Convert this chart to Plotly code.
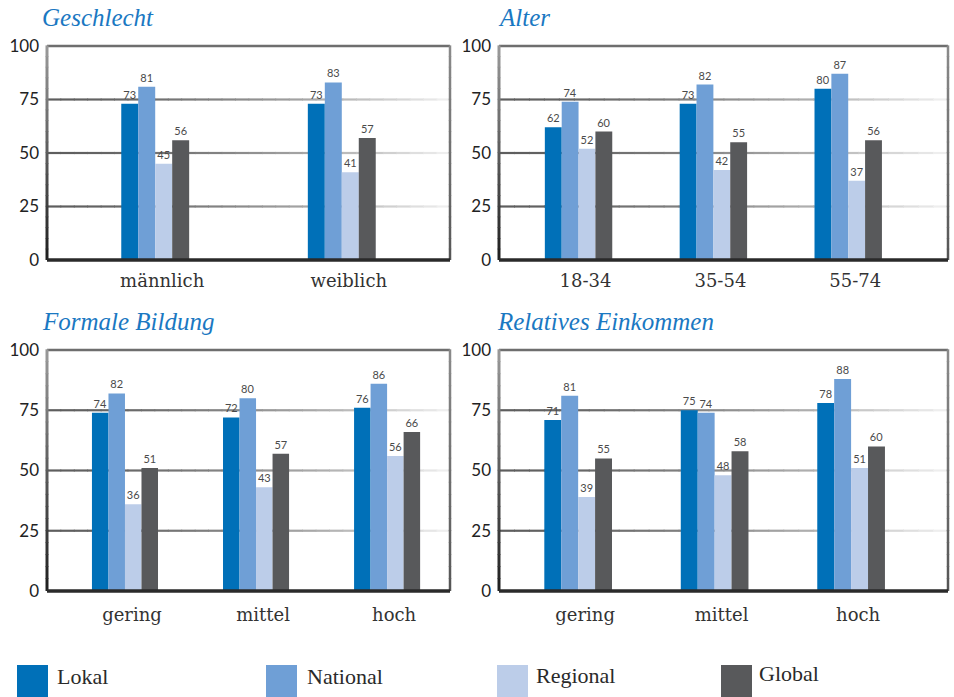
import plotly.graph_objects as go
from plotly.subplots import make_subplots

# ---- data -------------------------------------------------------------
series_names = ["Lokal", "National", "Regional", "Global"]
series_colors = ["#0070b8", "#6f9fd6", "#bccde9", "#58595b"]

geschlecht_cats = ["männlich", "weiblich"]
geschlecht_lokal = [73, 73]
geschlecht_national = [81, 83]
geschlecht_regional = [45, 41]
geschlecht_global = [56, 57]

alter_cats = ["18-34", "35-54", "55-74"]
alter_lokal = [62, 73, 80]
alter_national = [74, 82, 87]
alter_regional = [52, 42, 37]
alter_global = [60, 55, 56]

bildung_cats = ["gering", "mittel", "hoch"]
bildung_lokal = [74, 72, 76]
bildung_national = [82, 80, 86]
bildung_regional = [36, 43, 56]
bildung_global = [51, 57, 66]

einkommen_cats = ["gering", "mittel", "hoch"]
einkommen_lokal = [71, 75, 78]
einkommen_national = [81, 74, 88]
einkommen_regional = [39, 48, 51]
einkommen_global = [55, 58, 60]

y_ticks = [0, 25, 50, 75, 100]

panels = [
    dict(title="Geschlecht", cats=geschlecht_cats,
         values=[geschlecht_lokal, geschlecht_national, geschlecht_regional, geschlecht_global],
         row=1, col=1, xrange=[-0.58, 1.58], barw=0.091),
    dict(title="Alter", cats=alter_cats,
         values=[alter_lokal, alter_national, alter_regional, alter_global],
         row=1, col=2, xrange=[-0.59, 2.74], barw=0.125),
    dict(title="Formale Bildung", cats=bildung_cats,
         values=[bildung_lokal, bildung_national, bildung_regional, bildung_global],
         row=2, col=1, xrange=[-0.595, 2.48], barw=0.126),
    dict(title="Relatives Einkommen", cats=einkommen_cats,
         values=[einkommen_lokal, einkommen_national, einkommen_regional, einkommen_global],
         row=2, col=2, xrange=[-0.58, 2.71], barw=0.124),
]

W, H = 954, 697
col_x = {1: (47, 450), 2: (499, 948)}
row_y = {1: (46, 260), 2: (350, 591)}
row_label_standoff = {1: 8, 2: 11}
title_pos = {(1, 1): (40, 17), (1, 2): (496, 17), (2, 1): (40, 321), (2, 2): (495, 321)}

NUM_FONT = "Lato"
SERIF = "Liberation Serif"
LABEL_SERIF = "DejaVu Serif"

fig = make_subplots(rows=2, cols=2)


def hex_to_rgb(h):
    h = h.lstrip("#")
    return tuple(int(h[i:i + 2], 16) for i in (0, 2, 4))


def mix(c0, c1, t):
    a, b = hex_to_rgb(c0), hex_to_rgb(c1)
    return "rgb(%d,%d,%d)" % tuple(round(a[i] + (b[i] - a[i]) * t) for i in range(3))


def gradient_hline(xref, yref, y, c0, c1, width, n=30, power=1.6):
    for i in range(n):
        t = ((i + 0.5) / n) ** power
        fig.add_shape(type="line", xref=xref, yref=yref,
                      x0=i / n, x1=(i + 1) / n + 0.002, y0=y, y1=y,
                      line=dict(color=mix(c0, c1, t), width=width), layer="below")


def gradient_vline(xref, yref, x, c0, c1, width, n=20):
    # c0 at the bottom, c1 at the top
    for i in range(n):
        t = (i + 0.5) / n
        fig.add_shape(type="line", xref=xref, yref=yref,
                      x0=x, x1=x, y0=i / n, y1=(i + 1) / n + 0.003,
                      line=dict(color=mix(c0, c1, t), width=width), layer="above")


for idx, p in enumerate(panels):
    r, c = p["row"], p["col"]
    w = p["barw"]
    for s, (name, color) in enumerate(zip(series_names, series_colors)):
        vals = p["values"][s]
        fig.add_trace(go.Bar(
            x=p["cats"], y=vals, name=name, marker=dict(color=color, line=dict(width=0)),
            width=w, offset=-2 * w + s * w,
            text=[str(v) for v in vals], textposition="outside",
            textfont=dict(family=NUM_FONT, size=11, color="#4a4a4a"),
            constraintext="none", cliponaxis=False, showlegend=False,
        ), row=r, col=c)

    n = "" if idx == 0 else str(idx + 1)
    xa, ya = "xaxis" + n, "yaxis" + n
    x0, x1 = col_x[c]
    y0, y1 = row_y[r]
    fig.layout[xa].update(
        domain=[x0 / W, x1 / W], range=p["xrange"], type="category",
        showgrid=False, zeroline=False, showline=False, ticks="",
        tickfont=dict(family=LABEL_SERIF, size=18, color="#333333"),
        ticklabelstandoff=row_label_standoff[r], ticklabelshift=7,
        fixedrange=True, automargin=False,
    )
    fig.layout[ya].update(
        domain=[1 - y1 / H, 1 - y0 / H], range=[0, 100], tickvals=y_ticks,
        showgrid=False, zeroline=False, showline=False, ticks="",
        tickfont=dict(family=NUM_FONT, size=17, color="#222222"),
        ticklabelstandoff=7, fixedrange=True, automargin=False,
    )

    xd, yd = "x" + n + " domain", "y" + n + " domain"
    # gridlines fading out towards the right
    for gv in y_ticks[1:-1]:
        gradient_hline(xd, "y" + n, gv, "#5e5e5e", "#f2f2f2", 2.2)
    # frame
    fig.add_shape(type="line", xref=xd, yref=yd, x0=0, x1=1, y0=1, y1=1,
                  line=dict(color="#6e6e6e", width=2.5), layer="above")
    gradient_vline(xd, yd, 1, "#555555", "#8a8a8a", 2.5)
    gradient_vline(xd, yd, 0, "#1e1e1e", "#9a9a9a", 3)
    fig.add_shape(type="line", xref=xd, yref=yd, x0=0, x1=1, y0=0, y1=0,
                  line=dict(color="#2a2a2a", width=3.5), layer="above")

    tx, ty = title_pos[(r, c)]
    fig.add_annotation(
        text=p["title"], xref="paper", yref="paper", x=tx / W, y=1 - ty / H,
        xanchor="left", yanchor="middle", showarrow=False,
        font=dict(family=SERIF, size=25, color="#1a78c2", style="italic"),
    )

# legend drawn as colour blocks with labels
legend_box_x = [17, 266, 497, 721]
legend_text_x = [55, 305, 534, 757]
legend_text_y = [676, 676, 675, 673]
for name, color, bx, tx, ty in zip(series_names, series_colors, legend_box_x, legend_text_x, legend_text_y):
    fig.add_shape(type="rect", xref="paper", yref="paper",
                  x0=bx / W, x1=(bx + 31) / W, y0=1 - 697 / H, y1=1 - 665 / H,
                  fillcolor=color, line=dict(width=0))
    fig.add_annotation(text=name, xref="paper", yref="paper", x=tx / W, y=1 - ty / H,
                       xanchor="left", yanchor="middle", showarrow=False,
                       font=dict(family=SERIF, size=22, color="#2a2a2a"))

fig.update_layout(
    width=W, height=H, margin=dict(l=0, r=0, t=0, b=0, pad=0, autoexpand=False),
    paper_bgcolor="white", plot_bgcolor="white",
    barmode="overlay", showlegend=False,
)

fig.write_html("out.html")
